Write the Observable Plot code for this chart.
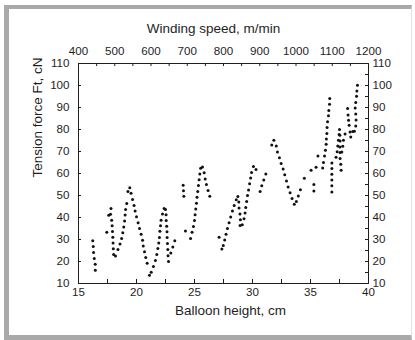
<!DOCTYPE html>
<html><head><meta charset="utf-8">
<script src="https://cdn.jsdelivr.net/npm/d3@7"></script>
<script src="https://cdn.jsdelivr.net/npm/@observablehq/plot@0.6"></script>
<style>
html,body{margin:0;padding:0;background:#fff;}
#wrap{position:relative;width:415px;height:340px;overflow:hidden;background:#fff;}
#frame{position:absolute;left:4px;top:5px;width:408px;height:335px;border-left:5px solid #a9a9a9;border-top:4px solid #a9a9a9;border-bottom:5px solid #a9a9a9;border-right:1px solid #e2e2e2;box-sizing:border-box;}
#chart{position:absolute;left:0;top:0;}
</style></head><body>
<div id="wrap"><div id="frame"></div><div id="chart"></div></div>
<script>
// Balloon height (cm) and tension force (cN)
const heights = [
  16.23,16.27,16.30,16.36,16.44,16.45,
  17.44,17.61,17.76,17.80,17.86,17.90,17.93,17.96,17.98,18.00,18.03,18.19,18.40,18.58,18.72,18.82,18.90,18.97,19.02,19.06,19.16,19.26,19.42,19.53,19.66,19.79,19.88,20.00,20.14,20.26,20.40,20.52,20.58,20.69,20.80,20.92,21.12,
  21.27,21.46,21.63,21.75,21.84,21.92,21.98,22.02,22.07,22.12,22.24,22.38,22.50,22.55,22.56,22.60,22.63,22.64,22.67,22.70,22.72,22.76,22.96,23.13,23.30,
  24.02,24.05,24.08,24.22,24.66,24.79,24.91,25.00,25.05,25.11,25.17,25.22,25.28,25.34,25.40,25.46,25.53,25.69,25.83,25.92,26.03,26.17,26.32,
  27.12,27.36,27.48,27.60,27.72,27.84,27.98,28.12,28.27,28.42,28.60,28.74,28.82,28.84,28.92,28.96,28.93,29.12,29.27,29.36,29.42,29.50,29.57,29.66,29.75,29.84,29.92,30.08,30.30,30.66,30.80,30.97,31.15,
  31.66,31.84,32.05,32.15,32.32,32.47,32.64,32.78,32.93,33.07,33.24,33.41,33.60,33.78,33.95,34.13,34.47,35.05,35.29,35.29,35.48,35.64,36.05,
  36.12,36.21,36.29,36.35,36.37,36.41,36.43,36.47,36.55,36.58,36.64,36.66,
  36.84,36.84,36.84,36.84,36.84,36.84,
  37.20,37.30,37.35,37.41,37.47,37.50,37.53,37.55,37.53,37.55,37.55,37.61,37.64,37.70,37.78,37.84,37.98,
  38.20,38.24,38.28,38.33,38.41,38.47,38.64,38.78,38.90,38.93,38.90,38.85,38.90,38.97,39.00,39.05
];
const forces = [
  29.4,26.8,24.1,21.4,18.8,16.0,
  33.3,41.0,41.5,44.1,38.8,36.3,33.6,31.0,28.4,25.8,23.2,22.5,25.4,27.9,30.5,33.1,35.7,38.4,41.1,43.6,46.4,51.8,53.5,51.0,48.2,45.5,43.0,40.3,37.6,35.0,32.4,29.7,27.0,24.4,21.8,19.2,13.8,
  15.1,17.7,20.5,23.2,25.9,28.4,30.9,33.7,36.2,38.8,41.6,44.1,43.6,41.3,38.6,36.0,33.5,30.9,28.2,25.5,22.6,20.0,23.9,26.6,29.4,
  54.7,52.2,49.7,33.9,30.5,33.3,35.9,38.6,41.2,43.9,46.5,49.2,51.8,54.5,57.2,59.8,62.4,62.9,60.3,57.5,55.0,52.3,49.7,
  31.0,25.7,27.3,29.8,32.4,35.0,37.6,40.2,42.9,45.5,48.1,49.5,47.0,44.3,41.6,39.0,36.4,36.7,39.4,42.0,44.6,47.3,50.0,52.5,55.3,57.9,60.5,63.2,61.8,51.8,54.4,57.1,59.8,
  72.9,75.1,72.5,69.8,67.2,64.5,62.0,59.4,56.6,53.9,51.3,48.6,46.0,47.3,49.8,52.6,57.8,61.5,55.0,52.1,62.8,68.0,62.5,
  65.0,67.9,70.6,73.3,75.7,78.2,80.9,83.5,86.2,88.6,91.5,94.1,
  64.8,62.3,59.7,57.0,54.4,51.6,
  67.4,69.9,72.5,75.1,77.7,80.0,77.4,74.8,72.1,69.5,66.8,64.2,61.5,69.8,72.4,75.1,77.9,
  89.5,86.6,84.2,81.9,78.9,76.6,79.1,79.2,81.6,84.3,87.0,89.8,92.3,95.1,97.5,100.1,102.7
];
const xTicks = [15,20,25,30,35,40];
const xMinor = [15,17.5,20,22.5,25,27.5,30,32.5,35,37.5,40];
const yTicks = [10,20,30,40,50,60,70,80,90,100,110];
const yMinor = [10,15,20,25,30,35,40,45,50,55,60,65,70,75,80,85,90,95,100,105,110];
const speedTicks = [400,500,600,700,800,900,1000,1100,1200];
const speedMinor = [400,450,500,550,600,650,700,750,800,850,900,950,1000,1050,1100,1150,1200];
const speedDomain = [400,1200];
const heightDomain = [15,40];
const toCm = d3.scaleLinear().domain(speedDomain).range(heightDomain);

const W = 415, H = 340, mL = 78, mR = 47, mT = 63, mB = 57;
const pw = W - mL - mR, ph = H - mT - mB;
const ink = "#1e1e1e";
const idx = d3.range(heights.length);

const chart = Plot.plot({
  width: W, height: H,
  marginLeft: mL, marginRight: mR, marginTop: mT, marginBottom: mB,
  x: {domain: heightDomain},
  y: {domain: [10,110]},
  style: {fontFamily: "'Liberation Sans', Arial, sans-serif", fontSize: "11.6px", color: ink, background: "transparent", overflow: "visible"},
  marks: [
    Plot.tickX(xMinor, {x: d => d, insetTop: ph - 4, stroke: ink}),
    Plot.tickX(speedMinor, {x: d => toCm(d), insetBottom: ph - 3, stroke: ink}),
    Plot.tickY(yTicks, {y: d => d, insetRight: pw - 3, stroke: ink}),
    Plot.tickY(yMinor, {y: d => d, insetLeft: pw - 3, stroke: ink}),
    Plot.frame({stroke: ink, strokeWidth: 1}),
    Plot.axisX(xTicks, {anchor: "bottom", tickSize: 0, tickPadding: 4, label: null}),
    Plot.axisY(yTicks, {anchor: "left", tickSize: 0, tickPadding: 9, label: null}),
    Plot.axisY(yTicks, {anchor: "right", tickSize: 0, tickPadding: 4, label: null}),
    Plot.text(speedTicks, {x: d => toCm(d), text: d => String(d), frameAnchor: "top", lineAnchor: "bottom", dy: -9, fill: ink}),
    Plot.text(["Winding speed, m/min"], {frameAnchor: "top", lineAnchor: "bottom", dx: -10, dy: -31, fontSize: 13.5, fill: ink}),
    Plot.text(["Balloon height, cm"], {frameAnchor: "bottom", lineAnchor: "top", dx: 7, dy: 22, fontSize: 13.5, fill: ink}),
    Plot.text(["Tension force Ft, cN"], {frameAnchor: "left", rotate: -90, dx: -41, dy: 4, fontSize: 13.5, fill: ink}),
    Plot.dot(idx, {x: i => heights[i], y: i => forces[i], r: 1.5, fill: "#111", stroke: "none"})
  ]
});
document.getElementById("chart").appendChild(chart);
</script>
</body></html>
